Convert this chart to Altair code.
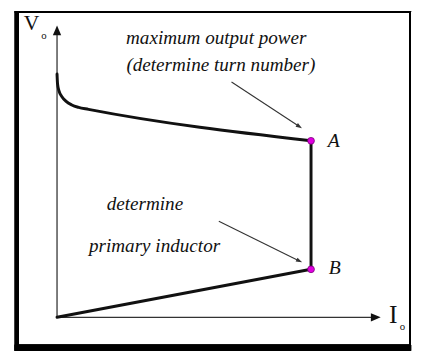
import altair as alt
import pandas as pd

# ---------------- data (in I_o / V_o units) ----------------
# knee curve (no-load to max power point A)
curve_I = [0.0, 0.002, 0.0077, 0.0193, 0.0347, 0.058, 0.085, 0.124, 1.0]
curve_V = [1.378, 1.322, 1.283, 1.250, 1.225, 1.203, 1.189, 1.178, 1.0]

# operating points
pt_names = ["A", "B"]
pt_I = [1.0, 1.0]
pt_V = [1.0, 0.272]

# point labels
lab_I = [1.089, 1.093]
lab_V = [1.0, 0.278]

# annotation texts
note_text = ["maximum output power", "(determine turn number)", "determine", "primary inductor"]
note_I = [0.627, 0.645, 0.346, 0.384]
note_V = [1.583, 1.428, 0.639, 0.406]

# annotation arrows (start -> end)
arr_I = [0.687, 0.637]
arr_V = [1.333, 0.544]
arr_I2 = [0.954, 0.954]
arr_V2 = [1.081, 0.319]
arr_angle = [33, 26]

# axes
yaxis_top_V = 1.60
yarrow_V = 1.625
xaxis_end_I = 1.243
xarrow_I = 1.255

# ---------------- layout ----------------
W, H = 414, 346
PX_I, PX_V = 259.0, 180.0      # pixels per unit
OX, OY = 50.0, 312.0           # origin in plot pixels
xdom = [-OX / PX_I, (W - OX) / PX_I]
ydom = [(OY - H) / PX_V, OY / PX_V]

xs = alt.Scale(domain=xdom, nice=False, zero=False)
ys = alt.Scale(domain=ydom, nice=False, zero=False)

def X(f):
    return alt.X(f, type="quantitative", scale=xs, axis=None)

def Y(f):
    return alt.Y(f, type="quantitative", scale=ys, axis=None)

FONT = "Liberation Serif"
INK = "#111111"

curve_df = pd.DataFrame({"I": curve_I, "V": curve_V})
pts_df = pd.DataFrame({"name": pt_names, "I": pt_I, "V": pt_V})
lab_df = pd.DataFrame({"name": pt_names, "I": lab_I, "V": lab_V})
note_df = pd.DataFrame({"t": note_text, "I": note_I, "V": note_V})
arr_df = pd.DataFrame({"I": arr_I, "V": arr_V, "I2": arr_I2, "V2": arr_V2, "ang": arr_angle})
seg_df = pd.DataFrame({
    "I": [pt_I[0], pt_I[1]], "V": [pt_V[0], pt_V[1]],
    "I2": [pt_I[1], 0.0], "V2": [pt_V[1], 0.0],
})
axes_df = pd.DataFrame({"I": [0.0, 0.0], "V": [0.0, 0.0], "I2": [0.0, xaxis_end_I], "V2": [yaxis_top_V, 0.0]})
ahead_df = pd.DataFrame({"I": [0.0, xarrow_I], "V": [yarrow_V, 0.0],
                         "shape": ["M0,-1L0.85,1L-0.85,1Z", "M1,0L-1,-0.85L-1,0.85Z"]})
axlab_df = pd.DataFrame({"t": ["V", "I"], "I": [-0.100, 1.324], "V": [1.667, 0.011], "fs": [22, 26]})
axsub_df = pd.DataFrame({"t": ["o", "o"], "I": [-0.052, 1.360], "V": [1.595, -0.058]})

# frame
frame = [
    alt.Chart(curve_df).mark_rect(color="#000").encode(
        x=alt.value(7), x2=alt.value(11), y=alt.value(0), y2=alt.value(H)),
    alt.Chart(curve_df).mark_rect(color="#000").encode(
        x=alt.value(7), x2=alt.value(411), y=alt.value(340), y2=alt.value(H)),
    alt.Chart(curve_df).mark_rule(color="#000", strokeWidth=1.5).encode(
        x=alt.value(410), y=alt.value(0), y2=alt.value(340)),
    alt.Chart(curve_df).mark_rule(color="#000", strokeWidth=1.2).encode(
        x=alt.value(7), x2=alt.value(411), y=alt.value(0.6)),
]

axes = alt.Chart(axes_df).mark_rule(color="#333", strokeWidth=1.3).encode(
    x=X("I"), y=Y("V"), x2="I2", y2="V2")
aheads = alt.Chart(ahead_df).mark_point(filled=True, color="#111", opacity=1, size=100).encode(
    x=X("I"), y=Y("V"), shape=alt.Shape("shape:N", scale=None))

curve = alt.Chart(curve_df).mark_line(color=INK, strokeWidth=3, interpolate="monotone",
                                      strokeCap="round").encode(x=X("I"), y=Y("V"))
segs = alt.Chart(seg_df).mark_rule(color=INK, strokeWidth=3, strokeCap="round").encode(
    x=X("I"), y=Y("V"), x2="I2", y2="V2")

pts = alt.Chart(pts_df).mark_point(filled=True, fill="#e000e0", stroke="#7a007a",
                                   strokeWidth=0.8, opacity=1, size=48).encode(
    x=X("I"), y=Y("V"))

labs = alt.Chart(lab_df).mark_text(font=FONT, fontStyle="italic", fontSize=20, color=INK,
                                   align="center", baseline="middle").encode(
    x=X("I"), y=Y("V"), text="name:N")

notes = alt.Chart(note_df).mark_text(font=FONT, fontStyle="italic", fontSize=19.5, color="#111",
                                     align="center", baseline="middle").encode(
    x=X("I"), y=Y("V"), text="t:N")

arr_lines = alt.Chart(arr_df).mark_rule(color="#333", strokeWidth=1.1).encode(
    x=X("I"), y=Y("V"), x2="I2", y2="V2")
arr_heads = alt.Chart(arr_df).mark_point(filled=True, color="#333", opacity=1, size=40,
                                         shape="M1,0L-1,-0.7L-1,0.7Z").encode(
    x=X("I2"), y=Y("V2"), angle=alt.Angle("ang:Q", scale=None))

axlab = alt.Chart(axlab_df).mark_text(font=FONT, color="#111", align="center",
                                      baseline="middle").encode(
    x=X("I"), y=Y("V"), text="t:N", size=alt.Size("fs:Q", scale=None))
axsub = alt.Chart(axsub_df).mark_text(font=FONT, fontSize=11, color="#111", align="center",
                                      baseline="middle").encode(
    x=X("I"), y=Y("V"), text="t:N")

chart = alt.layer(
    *frame, axes, aheads, curve, segs, arr_lines, arr_heads, pts, labs, notes, axlab, axsub
).properties(
    width=W, height=H, autosize=alt.AutoSizeParams(type="none"), padding=0,
    background="white"
).configure_view(stroke=None)

chart.save("out.html", embed_options={"renderer": "svg", "actions": False})
